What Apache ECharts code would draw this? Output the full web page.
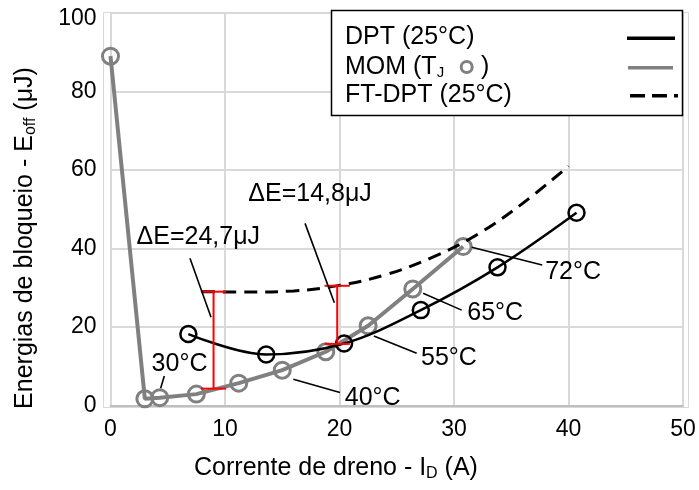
<!DOCTYPE html>
<html>
<head>
<meta charset="utf-8">
<script src="https://cdn.jsdelivr.net/npm/echarts@6/dist/echarts.min.js"></script>
<style>
  html, body { margin: 0; padding: 0; background: #fff; }
  #chart { width: 699px; height: 490px; }
</style>
</head>
<body>
<div id="chart"></div>
<script>
// Turn-off energy (µJ) versus drain current (A)
const momCurrent = [0, 3.0, 4.3, 7.5, 11.2, 15.0, 18.8, 22.5, 26.4, 30.8];
const momEnergy  = [89, 1.7, 2.0, 2.9, 5.7, 9.0, 13.7, 20.3, 29.7, 40.5];

const dptCurrent = [6.8, 13.6, 20.4, 27.1, 33.8, 40.7];
const dptEnergy  = [18.2, 13.0, 15.8, 24.3, 35.2, 49.1];

const ftCurrent = [8, 12, 16, 20, 24, 28, 32, 36, 40];
const ftEnergy  = [29.0, 28.9, 29.2, 30.6, 33.3, 37.6, 43.5, 51.5, 61.0];

// Energy gap between FT-DPT and MOM at two currents
const gapCurrent = [9.0, 19.8];
const gapTop     = [29.0, 30.5];
const gapValue   = [24.7, 14.8];

// Junction temperatures reached on the MOM curve
const tempLabels = ['30°C', '40°C', '55°C', '65°C', '72°C'];

const seriesNames = ['DPT (25°C)', 'MOM', 'FT-DPT (25°C)'];

// Callout placement (data units): text anchor and leader line ends
const calloutLayout = [
  { at: [7.67, 42.8],  from: [6.94, 37.5],  to: [8.78, 22.5] },
  { at: [17.43, 53.9], from: [16.99, 46.4], to: [19.55, 26.2] },
  { at: [6.03, 10.6],  from: [4.70, 7.5],   to: [4.38, 4.4] },
  { at: [22.9, 1.8],   from: [15.97, 6.7],  to: [20.04, 3.3] },
  { at: [29.56, 12.2], from: [23.0, 17.7],  to: [26.74, 13.3] },
  { at: [33.6, 23.6],  from: [27.3, 28.6],  to: [30.67, 24.3] },
  { at: [40.4, 34.0],  from: [31.55, 40.3], to: [37.7, 35.8] }
];

const FONT = "'Liberation Sans', Arial, sans-serif";
const GRAY = '#808080';

const gapTexts = gapValue.map(v => 'ΔE=' + String(v).replace('.', ',') + 'μJ');
const calloutTexts = gapTexts.concat(tempLabels);

const zip = (xs, ys) => xs.map((x, i) => [x, ys[i]]);

const LZ = 100; // legend drawn above the grid
const legendItems = [
  { type: 'rect', shape: { x: 331.5, y: 10.5, width: 351, height: 105 },
    style: { fill: '#fff', stroke: '#000', lineWidth: 1.5 } },
  { type: 'text', x: 345, y: 37,
    style: { text: seriesNames[0], font: '25px ' + FONT, fill: '#000', verticalAlign: 'middle' } },
  { type: 'text', x: 345, y: 67,
    style: {
      text: '{a|' + seriesNames[1] + ' (T}{s|J}',
      verticalAlign: 'middle',
      rich: {
        a: { fontSize: 25, fontFamily: FONT, fill: '#000' },
        s: { fontSize: 15, fontFamily: FONT, fill: '#000', padding: [12, 0, 0, 0] }
      }
    } },
  { type: 'circle', shape: { cx: 466.7, cy: 67, r: 5.5 },
    style: { fill: '#fff', stroke: GRAY, lineWidth: 3 } },
  { type: 'text', x: 481, y: 67,
    style: { text: ')', font: '25px ' + FONT, fill: '#000', verticalAlign: 'middle' } },
  { type: 'text', x: 345, y: 95.5,
    style: { text: seriesNames[2], font: '25px ' + FONT, fill: '#000', verticalAlign: 'middle' } },
  { type: 'line', shape: { x1: 627, y1: 38.3, x2: 675, y2: 38.3 },
    style: { stroke: '#000', lineWidth: 3.5 } },
  { type: 'line', shape: { x1: 628, y1: 67.7, x2: 673, y2: 67.7 },
    style: { stroke: GRAY, lineWidth: 3.5 } },
  { type: 'line', shape: { x1: 630, y1: 95.7, x2: 678, y2: 95.7 },
    style: { stroke: '#000', lineWidth: 3.5, lineDash: [15, 7] } }
].map(el => Object.assign({ z: LZ, silent: true }, el));

const chart = echarts.init(document.getElementById('chart'), null, { renderer: 'canvas' });

chart.setOption({
  animation: false,
  backgroundColor: '#fff',
  grid: { left: 110.5, right: 16, top: 13, bottom: 84.5 },
  xAxis: {
    type: 'value', min: 0, max: 50, interval: 10,
    axisLine: { show: true, lineStyle: { color: '#bfbfbf', width: 2 } },
    axisTick: { show: false },
    axisLabel: { color: '#000', fontSize: 23, fontFamily: FONT, margin: 13 },
    splitLine: { show: true, lineStyle: { color: '#d9d9d9', width: 2 } }
  },
  yAxis: {
    type: 'value', min: 0, max: 100, interval: 20,
    axisLine: { show: false },
    axisTick: { show: false },
    axisLabel: {
      color: '#000', fontSize: 23, fontFamily: FONT, margin: 14,
      // the top label sits a little lower so it stays inside the frame
      formatter: v => (v === 100 ? '{top|' + v + '}' : String(v)),
      rich: { top: { fontSize: 23, fontFamily: FONT, color: '#000', padding: [12, 0, 0, 0] } }
    },
    splitLine: { show: true, lineStyle: { color: '#d9d9d9', width: 2 } }
  },
  graphic: [
    // plot-area frame
    { type: 'rect', z: -10, silent: true,
      shape: { x: 103.5, y: 12.5, width: 585, height: 395 },
      style: { fill: 'none', stroke: '#d9d9d9', lineWidth: 1 } },
    // axis titles
    { type: 'text', x: 336, y: 468, silent: true,
      style: {
        text: '{t|Corrente de dreno - I}{s|D}{t| (A)}',
        align: 'center', verticalAlign: 'middle',
        rich: {
          t: { fontSize: 25, fontFamily: FONT, fill: '#000' },
          s: { fontSize: 16, fontFamily: FONT, fill: '#000', padding: [12, 0, 0, 0] }
        }
      } },
    { type: 'text', x: 25, y: 238, rotation: Math.PI / 2, silent: true,
      style: {
        text: '{t|Energias de bloqueio - E}{s|off}{t| (μJ)}',
        align: 'center', verticalAlign: 'middle',
        rich: {
          t: { fontSize: 25, fontFamily: FONT, fill: '#000' },
          s: { fontSize: 16, fontFamily: FONT, fill: '#000', padding: [12, 0, 0, 0] }
        }
      } }
  ].concat(legendItems),
  series: [
    {
      name: seriesNames[1], type: 'line', z: 3,
      data: zip(momCurrent, momEnergy),
      symbol: 'circle', symbolSize: 16,
      lineStyle: { color: GRAY, width: 4 },
      itemStyle: { color: 'rgba(255,255,255,0)', borderColor: GRAY, borderWidth: 3 }
    },
    {
      name: seriesNames[0], type: 'line', z: 4, smooth: 0.35,
      data: zip(dptCurrent, dptEnergy),
      symbol: 'circle', symbolSize: 16,
      lineStyle: { color: '#000', width: 2.5 },
      itemStyle: { color: 'rgba(255,255,255,0)', borderColor: '#000', borderWidth: 2.5 }
    },
    {
      name: seriesNames[2], type: 'line', z: 5, smooth: 0.4,
      data: zip(ftCurrent, ftEnergy),
      symbol: 'none',
      lineStyle: { color: '#000', width: 3, type: [13, 8] }
    },
    {
      // red bars marking the energy gap
      type: 'custom', z: 6, clip: false, silent: true,
      data: gapCurrent.map((x, i) => [x, gapTop[i], +(gapTop[i] - gapValue[i]).toFixed(2)]),
      encode: { x: 0, y: [1, 2] },
      renderItem: (params, api) => {
        const x = api.value(0);
        const top = api.coord([x, api.value(1)]);
        const bot = api.coord([x, api.value(2)]);
        const half = api.size([1.1, 0])[0];
        const st = { stroke: '#ff0000', lineWidth: 2 };
        return { type: 'group', children: [
          { type: 'line', shape: { x1: top[0], y1: top[1], x2: bot[0], y2: bot[1] }, style: st },
          { type: 'line', shape: { x1: top[0] - half, y1: top[1], x2: top[0] + half, y2: top[1] }, style: st },
          { type: 'line', shape: { x1: bot[0] - half, y1: bot[1], x2: bot[0] + half, y2: bot[1] }, style: st }
        ] };
      }
    },
    {
      // callout texts with leader lines
      type: 'custom', z: 7, clip: false, silent: true,
      data: calloutLayout.map(c => c.at),
      renderItem: (params, api) => {
        const c = calloutLayout[params.dataIndex];
        const p = api.coord(c.at);
        const a = api.coord(c.from);
        const b = api.coord(c.to);
        return { type: 'group', children: [
          { type: 'line', shape: { x1: a[0], y1: a[1], x2: b[0], y2: b[1] },
            style: { stroke: '#000', lineWidth: 1.6 } },
          { type: 'text', x: p[0], y: p[1],
            style: { text: calloutTexts[params.dataIndex], font: '25px ' + FONT,
                     fill: '#000', align: 'center', verticalAlign: 'middle' } }
        ] };
      }
    }
  ]
});
</script>
</body>
</html>
